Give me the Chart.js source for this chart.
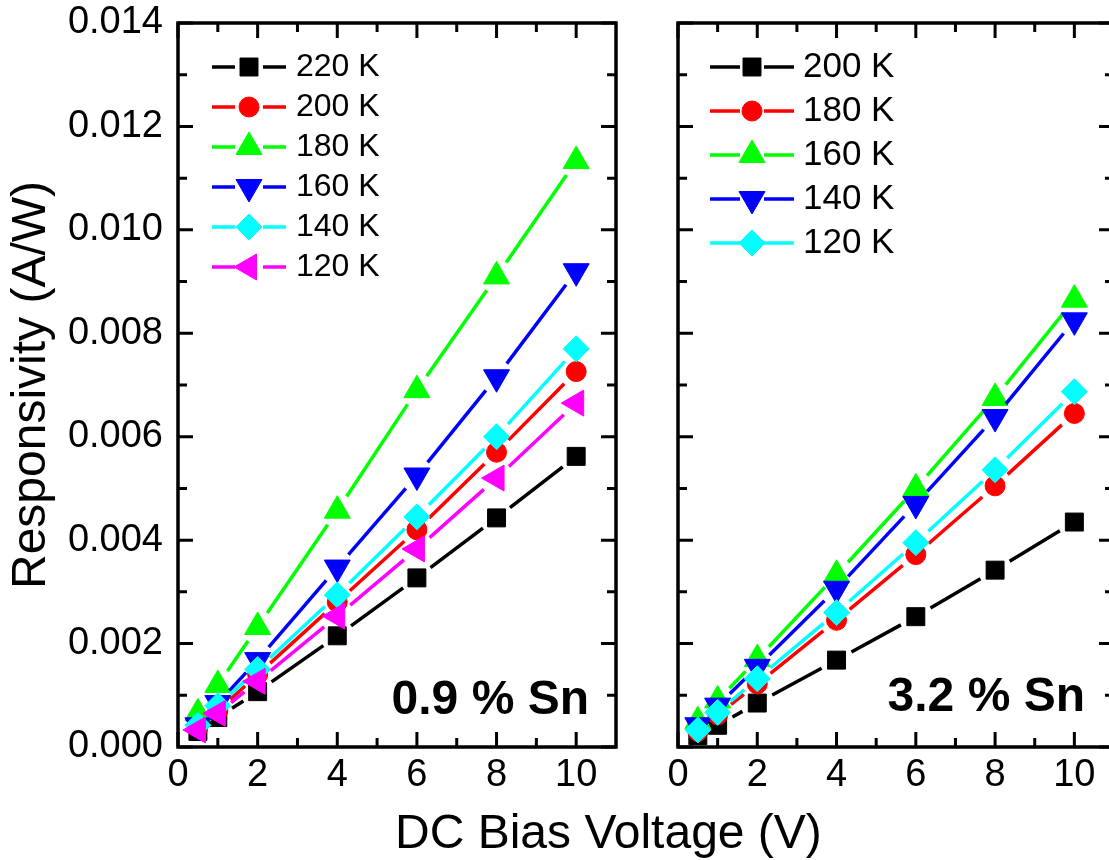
<!DOCTYPE html>
<html>
<head>
<meta charset="utf-8">
<title>Responsivity vs DC bias</title>
<script src="https://cdn.jsdelivr.net/npm/chart.js"></script>
<style>
  html, body { margin: 0; padding: 0; background: #fff; overflow: hidden; }
  body { width: 1109px; height: 860px; position: relative; }
  #left  { position: absolute; left: 0; top: 0; }
  #right { position: absolute; left: 640px; top: 0; }
  #xtitle {
    position: absolute; left: 395px; top: 808px;
    font: 48px 'Liberation Sans', Arial, sans-serif; line-height: 1;
    white-space: nowrap; color: #000;
  }
</style>
</head>
<body>
<canvas id="left" width="640" height="860"></canvas>
<canvas id="right" width="500" height="860"></canvas>
<div id="xtitle">DC Bias Voltage (V)</div>
<script>
// ---- data ----------------------------------------------------------
const bias   = [0.5, 1, 2, 4, 6, 8, 10];
const xTicks = [0, 2, 4, 6, 8, 10];
const xMinor = [1, 3, 5, 7, 9];
const yTicks = [0, 0.002, 0.004, 0.006, 0.008, 0.010, 0.012, 0.014];
const yMinor = [0.001, 0.003, 0.005, 0.007, 0.009, 0.011, 0.013];

// 0.9 % Sn
const lowLabels = ['220 K', '200 K', '180 K', '160 K', '140 K', '120 K'];
const low220 = [0.00030, 0.00057, 0.00107, 0.00215, 0.00327, 0.00443, 0.00562];
const low200 = [0.00038, 0.00070, 0.00140, 0.00280, 0.00420, 0.00570, 0.00726];
const low180 = [0.00065, 0.00120, 0.00232, 0.00457, 0.00690, 0.00910, 0.01133];
const low160 = [0.00042, 0.00085, 0.00168, 0.00347, 0.00525, 0.00715, 0.00920];
const low140 = [0.00042, 0.00080, 0.00150, 0.00294, 0.00445, 0.00600, 0.00770];
const low120 = [0.00033, 0.00065, 0.00127, 0.00253, 0.00383, 0.00520, 0.00665];

// 3.2 % Sn
const highLabels = ['200 K', '180 K', '160 K', '140 K', '120 K'];
const high200 = [0.00022, 0.00042, 0.00085, 0.00168, 0.00252, 0.00342, 0.00435];
const high180 = [0.00030, 0.00062, 0.00122, 0.00245, 0.00372, 0.00505, 0.00645];
const high160 = [0.00050, 0.00090, 0.00170, 0.00333, 0.00500, 0.00675, 0.00865];
const high140 = [0.00042, 0.00080, 0.00155, 0.00306, 0.00470, 0.00638, 0.00825];
const high120 = [0.00033, 0.00067, 0.00132, 0.00260, 0.00395, 0.00536, 0.00687];

// ---- styling -------------------------------------------------------
const FONT = "'Liberation Sans', Arial, sans-serif";
Chart.defaults.font.family = FONT;
Chart.defaults.color = '#000';

const MARK = {
  square:  { pointStyle: 'rect',     radius: 12.7, rotation: 0 },
  circle:  { pointStyle: 'circle',   radius: 10,   rotation: 0 },
  up:      { pointStyle: 'triangle', radius: 15,   rotation: 0 },
  down:    { pointStyle: 'triangle', radius: 15,   rotation: 180 },
  diamond: { pointStyle: 'rectRot',  radius: 13,   rotation: 0 },
  left:    { pointStyle: 'triangle', radius: 15,   rotation: -90 },
};

// line stops short of each marker, like the plotting program does
const GAP = 17;
const segLen = c => Math.hypot(c.p1.x - c.p0.x, c.p1.y - c.p0.y);
const segDash = c => { const d = Math.max(segLen(c) - 2 * GAP, 0); return [d, 2 * GAP]; };
const segOffset = c => Math.max(segLen(c) - 2 * GAP, 0) + GAP;

function series(label, values, color, mark, order) {
  return {
    label,
    data: bias.map((x, i) => ({ x, y: values[i] })),
    borderColor: color,
    backgroundColor: color,
    borderWidth: 3.5,
    pointBackgroundColor: color,
    pointBorderColor: color,
    pointBorderWidth: 1,
    pointStyle: mark.pointStyle,
    pointRadius: mark.radius,
    pointHoverRadius: mark.radius,
    pointRotation: mark.rotation,
    mark,
    order,
    clip: false,
    segment: { borderDash: segDash, borderDashOffset: segOffset },
  };
}

// box frame with inward ticks on all four sides
const axisFrame = {
  id: 'axisFrame',
  afterDraw(chart) {
    const { ctx, chartArea: a, scales: { x, y } } = chart;
    ctx.save();
    ctx.strokeStyle = '#000';
    ctx.lineWidth = 3;
    ctx.beginPath();
    const vert = (vals, len) => vals.forEach(v => {
      const px = x.getPixelForValue(v);
      ctx.moveTo(px, a.bottom); ctx.lineTo(px, a.bottom - len);
      ctx.moveTo(px, a.top);    ctx.lineTo(px, a.top + len);
    });
    const horz = (vals, len) => vals.forEach(v => {
      const py = y.getPixelForValue(v);
      ctx.moveTo(a.left, py);  ctx.lineTo(a.left + len, py);
      ctx.moveTo(a.right, py); ctx.lineTo(a.right - len, py);
    });
    vert(xTicks, 15); vert(xMinor, 9);
    horz(yTicks, 15); horz(yMinor, 9);
    ctx.stroke();
    ctx.lineWidth = 3.5;
    ctx.strokeRect(a.left, a.top, a.right - a.left, a.bottom - a.top);
    ctx.restore();
  }
};

// legend drawn inside the plot: line - marker - line, then label
const insetLegend = {
  id: 'insetLegend',
  afterDraw(chart, args, o) {
    const { ctx, chartArea: a } = chart;
    ctx.save();
    ctx.font = `${o.fontSize}px ${FONT}`;
    ctx.textBaseline = 'middle';
    ctx.textAlign = 'left';
    chart.data.datasets.forEach((ds, i) => {
      const cy = a.top + o.top + i * o.step;
      const cx = a.left + o.markX;
      ctx.strokeStyle = ds.borderColor;
      ctx.fillStyle = ds.borderColor;
      ctx.lineWidth = 3.5;
      ctx.beginPath();
      ctx.moveTo(cx - o.half, cy); ctx.lineTo(cx - o.gap, cy);
      ctx.moveTo(cx + o.gap, cy);  ctx.lineTo(cx + o.half, cy);
      ctx.stroke();
      ctx.lineWidth = 1;
      Chart.helpers.drawPoint(ctx, {
        pointStyle: ds.mark.pointStyle, radius: ds.mark.radius,
        rotation: ds.mark.rotation, borderWidth: 1
      }, cx, cy);
      ctx.fillStyle = '#000';
      ctx.fillText(ds.label, a.left + o.textX, cy);
    });
    ctx.restore();
  }
};

// bold composition tag in the lower-right corner
const sampleTag = {
  id: 'sampleTag',
  afterDraw(chart, args, o) {
    const { ctx, chartArea: a } = chart;
    ctx.save();
    ctx.font = `bold 48px ${FONT}`;
    ctx.fillStyle = '#000';
    ctx.textAlign = 'right';
    ctx.textBaseline = 'alphabetic';
    ctx.fillText(o.text, a.right - o.right, a.bottom - o.bottom);
    ctx.restore();
  }
};

function scales(showY) {
  return {
    x: {
      type: 'linear', min: 0, max: 11,
      grid: { display: false, drawTicks: false },
      border: { display: false },
      afterBuildTicks: s => { s.ticks = xTicks.map(v => ({ value: v })); },
      afterFit: s => { s.height = 60; s.paddingLeft = 0; s.paddingRight = 0; },
      ticks: { font: { size: 38 }, padding: 6, maxRotation: 0, autoSkip: false },
    },
    y: {
      type: 'linear', min: 0, max: 0.014,
      display: showY,
      grid: { display: false, drawTicks: false },
      border: { display: false },
      afterBuildTicks: s => { s.ticks = yTicks.map(v => ({ value: v })); },
      afterFit: s => { s.width = showY ? 178 : 0; s.paddingTop = 0; s.paddingBottom = 0; },
      ticks: { font: { size: 38 }, padding: 15, autoSkip: false, callback: v => v.toFixed(3) },
      title: {
        display: showY, text: 'Responsivity (A/W)',
        font: { size: 48 }, padding: { top: 3, bottom: 0 },
      },
    },
  };
}

function panel(id, datasets, padding, legend, tag) {
  return new Chart(document.getElementById(id), {
    type: 'line',
    data: { datasets },
    options: {
      responsive: false,
      animation: false,
      events: [],
      layout: { padding },
      scales: scales(id === 'left'),
      plugins: {
        legend: { display: false },
        tooltip: { enabled: false },
        insetLegend: legend,
        sampleTag: tag,
      },
    },
    plugins: [axisFrame, insetLegend, sampleTag],
  });
}

panel('left', [
  series(lowLabels[0], low220, '#000000', MARK.square, 6),
  series(lowLabels[1], low200, '#ff0000', MARK.circle, 5),
  series(lowLabels[2], low180, '#00ff00', MARK.up, 4),
  series(lowLabels[3], low160, '#0000ff', MARK.down, 3),
  series(lowLabels[4], low140, '#00ffff', MARK.diamond, 2),
  series(lowLabels[5], low120, '#ff00ff', MARK.left, 1),
], { left: 0, top: 23, right: 24, bottom: 53 },
   { top: 44, step: 40, markX: 71, half: 37, gap: 14, textX: 118, fontSize: 32 },
   { text: '0.9 % Sn', right: 27, bottom: 33 });

panel('right', [
  series(highLabels[0], high200, '#000000', MARK.square, 5),
  series(highLabels[1], high180, '#ff0000', MARK.circle, 4),
  series(highLabels[2], high160, '#00ff00', MARK.up, 3),
  series(highLabels[3], high140, '#0000ff', MARK.down, 2),
  series(highLabels[4], high120, '#00ffff', MARK.diamond, 1),
], { left: 38, top: 23, right: 26, bottom: 53 },
   { top: 44, step: 44, markX: 74, half: 42, gap: 12, textX: 125, fontSize: 35 },
   { text: '3.2 % Sn', right: 29, bottom: 36 });
</script>
</body>
</html>
